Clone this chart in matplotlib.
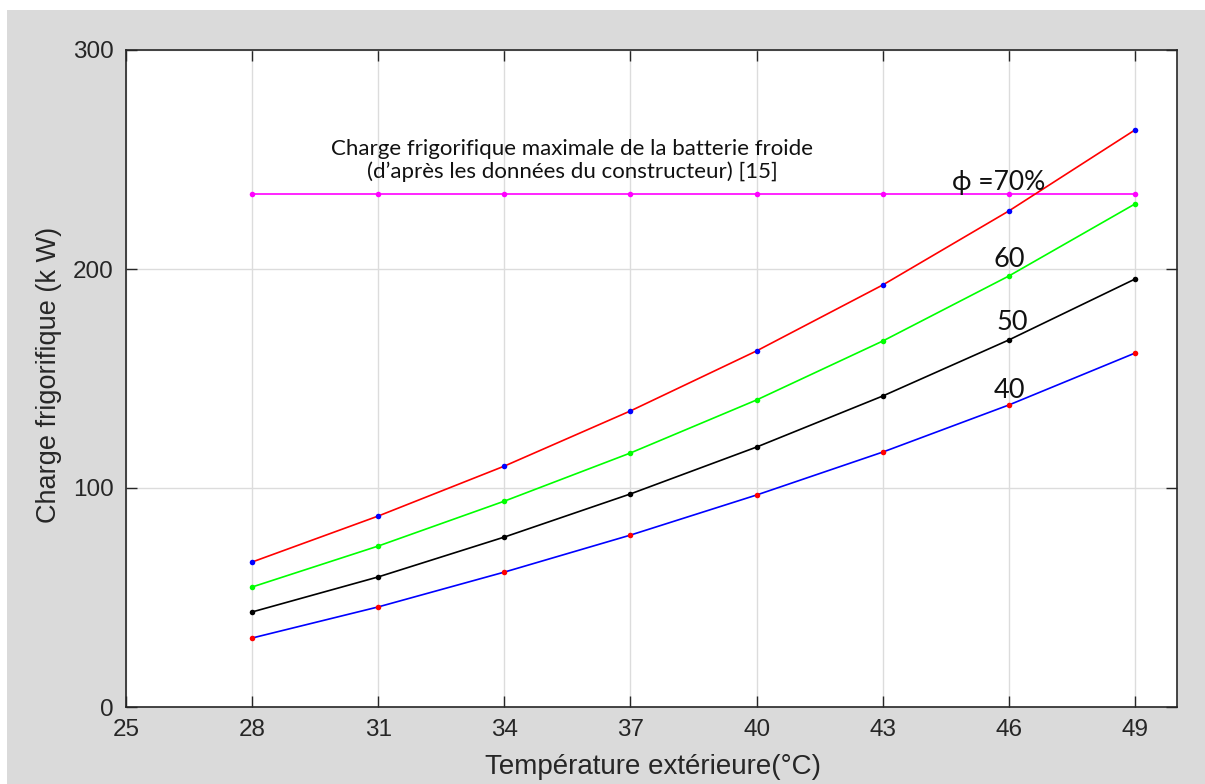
import matplotlib
matplotlib.use("Agg")
import matplotlib.pyplot as plt
from matplotlib.patches import Rectangle

plt.rcParams["font.family"] = ["Liberation Sans", "DejaVu Sans"]

temps = [28, 31, 34, 37, 40, 43, 46, 49]
phi70 = [66.2, 87.2, 110.0, 135.2, 162.6, 192.7, 226.5, 263.5]
phi60 = [54.8, 73.5, 94.0, 116.0, 140.2, 167.1, 196.8, 229.7]
phi50 = [43.4, 59.4, 77.6, 97.3, 118.7, 142.0, 167.6, 195.4]
phi40 = [31.5, 45.7, 61.6, 78.5, 96.8, 116.4, 137.9, 161.6]
max_charge = [234.2] * 8

xticks = [25, 28, 31, 34, 37, 40, 43, 46, 49]
yticks = [0, 100, 200, 300]

fig = plt.figure(figsize=(12.05, 7.84), dpi=100, facecolor="white")
fig.patches.append(Rectangle((7 / 1205, 0), 1 - 7 / 1205, 1 - 10 / 784,
                             transform=fig.transFigure, facecolor="#dadada",
                             edgecolor="none", zorder=-10))

ax = fig.add_axes([126 / 1205, 77 / 784, (1177 - 126) / 1205, (707 - 50) / 784])
ax.set_facecolor("white")

lw = 1.2
ms = 4
ax.plot(temps, max_charge, color="#ff00ff", lw=lw, marker="o", ms=ms,
        mfc="#ff00ff", mec="none", zorder=3)
ax.plot(temps, phi70, color="#ff0000", lw=lw, marker="o", ms=ms,
        mfc="#0000ff", mec="none", zorder=3)
ax.plot(temps, phi60, color="#00ff00", lw=lw, marker="o", ms=ms,
        mfc="#00ff00", mec="none", zorder=3)
ax.plot(temps, phi50, color="#000000", lw=lw, marker="o", ms=ms,
        mfc="#000000", mec="none", zorder=3)
ax.plot(temps, phi40, color="#0000ff", lw=lw, marker="o", ms=ms,
        mfc="#ff0000", mec="none", zorder=3)

ax.set_xlim(25, 50)
ax.set_ylim(0, 300)
ax.set_xticks(xticks)
ax.set_yticks(yticks)
ax.grid(True, color="#dcdcdc", lw=1.0)
ax.set_axisbelow(True)

tick_color = "#262626"
ax.tick_params(direction="in", length=8, width=1.0, color=tick_color,
               labelcolor=tick_color, labelsize=17.5, top=True, right=True,
               pad=9)
for s in ax.spines.values():
    s.set_color(tick_color)
    s.set_linewidth(1.2)

ax.set_xlabel("Température extérieure(°C)", fontsize=20, color=tick_color)
ax.xaxis.set_label_coords(0.501, -0.071)
ax.set_ylabel("Charge frigorifique (k W)", fontsize=19.5, color=tick_color)
ax.yaxis.set_label_coords(-0.061, 0.505)

fam = ["Lato", "DejaVu Sans"]
ax.text(35.62, 249.5, "Charge frigorifique maximale de la batterie froide\n(d’après les données du constructeur) [15]",
        ha="center", va="center", fontsize=16, family=fam, color="#111111",
        linespacing=1.12)
ax.text(44.65, 239.5, "ϕ =70%", ha="left", va="center", fontsize=19, family=fam,
        color="#111111")
ax.text(46.02, 204.5, "60", ha="center", va="center", fontsize=19.5, family=fam,
        color="#111111")
ax.text(46.07, 175.5, "50", ha="center", va="center", fontsize=19.5, family=fam,
        color="#111111")
ax.text(46.02, 144.5, "40", ha="center", va="center", fontsize=19.5, family=fam,
        color="#111111")

fig.savefig("out.png", dpi=100, facecolor=fig.get_facecolor())
